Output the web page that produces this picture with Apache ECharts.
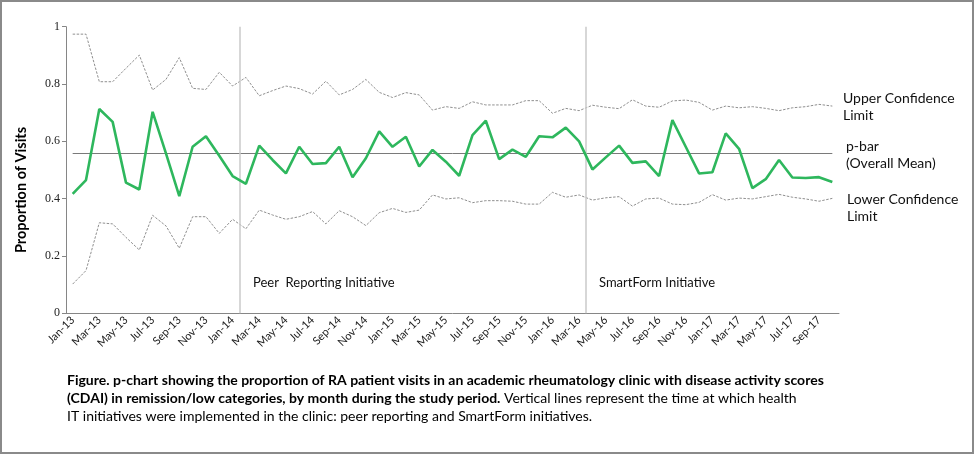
<!DOCTYPE html>
<html>
<head>
<meta charset="utf-8">
<script src="https://cdn.jsdelivr.net/npm/echarts@6/dist/echarts.min.js"></script>
<style>
html,body{margin:0;padding:0;background:#fff;}
#c{width:975px;height:455px;}
</style>
</head>
<body>
<div id="c"></div>
<script>
const months = ['Jan-13','Feb-13','Mar-13','Apr-13','May-13','Jun-13','Jul-13','Aug-13','Sep-13','Oct-13','Nov-13','Dec-13',
'Jan-14','Feb-14','Mar-14','Apr-14','May-14','Jun-14','Jul-14','Aug-14','Sep-14','Oct-14','Nov-14','Dec-14',
'Jan-15','Feb-15','Mar-15','Apr-15','May-15','Jun-15','Jul-15','Aug-15','Sep-15','Oct-15','Nov-15','Dec-15',
'Jan-16','Feb-16','Mar-16','Apr-16','May-16','Jun-16','Jul-16','Aug-16','Sep-16','Oct-16','Nov-16','Dec-16',
'Jan-17','Feb-17','Mar-17','Apr-17','May-17','Jun-17','Jul-17','Aug-17','Sep-17','Oct-17'];

const proportion = [0.417,0.465,0.713,0.668,0.456,0.432,0.703,0.558,0.409,0.581,
0.618,0.550,0.479,0.452,0.585,0.535,0.488,0.581,0.521,0.524,
0.581,0.475,0.541,0.635,0.581,0.616,0.512,0.570,0.529,0.480,
0.622,0.672,0.538,0.571,0.546,0.618,0.614,0.648,0.600,0.502,
0.544,0.585,0.525,0.530,0.479,0.674,0.581,0.488,0.492,0.628,
0.574,0.437,0.468,0.535,0.474,0.472,0.475,0.458];

const upperLimit = [0.974,0.974,0.808,0.808,0.855,0.901,0.779,0.816,0.892,0.785,
0.781,0.841,0.793,0.823,0.759,0.777,0.793,0.784,0.765,0.810,
0.762,0.781,0.816,0.771,0.753,0.770,0.762,0.709,0.721,0.715,
0.738,0.727,0.727,0.727,0.742,0.742,0.698,0.715,0.707,0.726,
0.719,0.714,0.745,0.723,0.719,0.741,0.744,0.736,0.709,0.723,
0.717,0.721,0.715,0.707,0.717,0.721,0.729,0.723];

const lowerLimit = [0.102,0.149,0.316,0.312,0.265,0.221,0.342,0.305,0.227,0.337,
0.337,0.279,0.328,0.295,0.360,0.343,0.328,0.337,0.355,0.312,
0.358,0.337,0.306,0.351,0.366,0.352,0.360,0.413,0.399,0.403,
0.386,0.393,0.393,0.391,0.381,0.381,0.422,0.405,0.413,0.395,
0.403,0.407,0.374,0.399,0.402,0.381,0.379,0.387,0.414,0.395,
0.402,0.399,0.407,0.415,0.405,0.399,0.391,0.401];

const pBar = 0.56;
const yTicks = [0, 0.2, 0.4, 0.6, 0.8, 1];
const initiativeStarts = ['Feb-14', 'Apr-16'];
const initiativeNames = ['Peer  Reporting Initiative', 'SmartForm Initiative'];

const captionBold1 = 'Figure. p-chart showing the proportion of RA patient visits in an academic rheumatology clinic with disease activity scores';
const captionBold2 = '(CDAI) in remission/low categories, by month during the study period.';
const captionRest2 = ' Vertical lines represent the time at which health';
const captionLine3 = 'IT initiatives were implemented in the clinic: peer reporting and SmartForm initiatives.';

const FONT = 'Lato, "Open Sans", sans-serif';
const chart = echarts.init(document.getElementById('c'), null, {renderer: 'canvas'});

const axisGrey = '#868686';

const option = {
  animation: false,
  backgroundColor: '#fff',
  grid: {left: 66, right: 136, top: 26.7, bottom: 141.7, containLabel: false},
  xAxis: [{
    type: 'category',
    data: months,
    boundaryGap: true,
    axisLine: {lineStyle: {color: axisGrey, width: 1}},
    axisTick: {interval: 1, length: 4, lineStyle: {color: axisGrey}},
    axisLabel: {interval: 1, rotate: 45, margin: 5, fontFamily: FONT, fontSize: 11, color: '#222'},
    splitLine: {show: false}
  }, {
    type: 'value', min: 0, max: months.length, show: false
  }],
  yAxis: {
    type: 'value', min: yTicks[0], max: yTicks[yTicks.length-1], interval: 0.2,
    axisLine: {show: true, lineStyle: {color: axisGrey}},
    axisTick: {show: true, length: 4, lineStyle: {color: axisGrey}},
    axisLabel: {fontFamily: '"Liberation Serif", serif', fontSize: 12, color: '#222', margin: 6},
    splitLine: {show: false}
  },
  series: [
    {
      name: 'UCL', type: 'line', data: upperLimit, symbol: 'none',
      lineStyle: {color: '#8f8f8f', width: 1, type: [2.5, 1.5]}
    },
    {
      name: 'LCL', type: 'line', data: lowerLimit, symbol: 'none',
      lineStyle: {color: '#8f8f8f', width: 1, type: [2.5, 1.5]}
    },
    {
      name: 'Proportion', type: 'line', data: proportion, symbol: 'none', z: 5,
      lineStyle: {color: '#2eb75d', width: 2.6},
      markLine: {
        silent: true, symbol: 'none', label: {show: false},
        lineStyle: {color: '#7a7a7a', width: 1, type: 'solid'},
        data: [[{coord: [months[0], pBar]}, {coord: [months[months.length-1], pBar]}]]
      }
    },
    {
      name: 'initiatives', type: 'line', xAxisIndex: 1, data: [], symbol: 'none',
      markLine: {
        silent: true, symbol: 'none',
        lineStyle: {color: '#cacaca', width: 1.5, type: 'solid'},
        label: {show: false},
        data: initiativeStarts.map(m => ({xAxis: months.indexOf(m)}))
      }
    }
  ],
  graphic: [
    {type: 'rect', shape: {x: 1, y: 1, width: 972, height: 452}, style: {fill: 'none', stroke: '#8a8a8a', lineWidth: 2}, silent: true},
    {type: 'text', x: 21, y: 190, rotation: Math.PI / 2,
      style: {text: 'Proportion of Visits', font: 'bold 14.5px ' + FONT, fill: '#000', textAlign: 'center', textVerticalAlign: 'middle'}},
    {type: 'text', left: 253, top: 276, style: {text: initiativeNames[0], font: '13px ' + FONT, fill: '#111'}},
    {type: 'text', left: 599, top: 276, style: {text: initiativeNames[1], font: '13px ' + FONT, fill: '#111'}},
    {type: 'text', left: 843, top: 90, style: {text: 'Upper Confidence\nLimit', font: '14px ' + FONT, fill: '#111', lineHeight: 17}},
    {type: 'text', left: 846, top: 138, style: {text: 'p-bar\n(Overall Mean)', font: '14px ' + FONT, fill: '#111', lineHeight: 17}},
    {type: 'text', left: 847, top: 191, style: {text: 'Lower Confidence\nLimit', font: '14px ' + FONT, fill: '#111', lineHeight: 17}},
    {type: 'text', left: 67, top: 373, style: {text: captionBold1, font: 'bold 14px ' + FONT, fill: '#000'}},
    {type: 'text', left: 67, top: 391, style: {
      rich: {b: {font: 'bold 14px ' + FONT, fill: '#000'}, n: {font: '14px ' + FONT, fill: '#000'}},
      text: '{b|' + captionBold2 + '}{n|' + captionRest2 + '}'
    }},
    {type: 'text', left: 67, top: 409, style: {text: captionLine3, font: '14px ' + FONT, fill: '#000'}}
  ]
};
chart.setOption(option);
</script>
</body>
</html>
